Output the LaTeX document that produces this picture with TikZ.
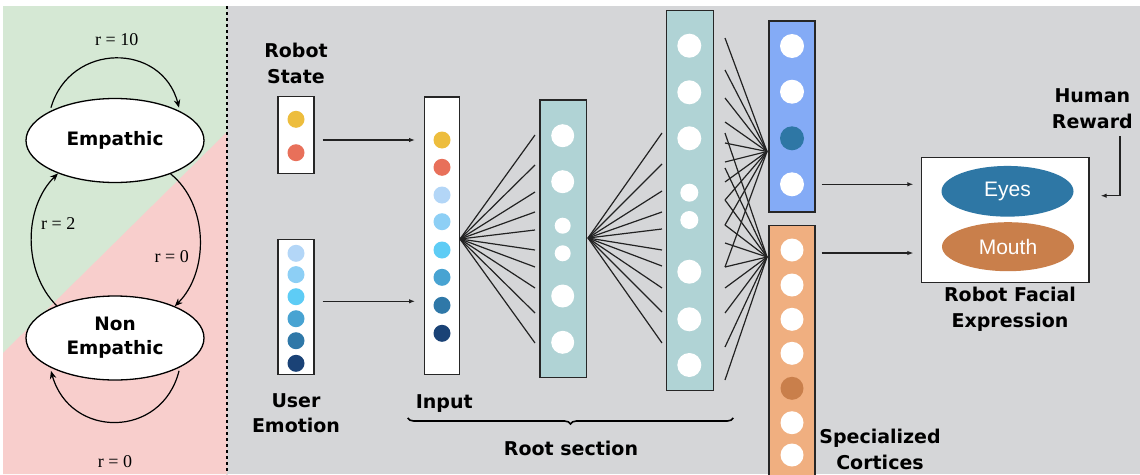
\documentclass[tikz,border=0pt]{standalone}
\usepackage{fontspec}
\setmainfont{Liberation Serif}
\newfontfamily\djv{DejaVu Sans}
\newfontfamily\arl{Liberation Sans}
\usetikzlibrary{arrows.meta,shapes.geometric,decorations.pathreplacing}

\definecolor{bgray}{HTML}{D5D6D8}
\definecolor{lgreen}{HTML}{D5E8D4}
\definecolor{lpink}{HTML}{F8CECC}
\definecolor{layerteal}{HTML}{B0D3D5}
\definecolor{cblue}{HTML}{84ABF6}
\definecolor{corange}{HTML}{F0AF80}
\definecolor{dotyellow}{HTML}{EDBD3D}
\definecolor{dotred}{HTML}{E8705A}
\definecolor{euA}{HTML}{B3D6F7}
\definecolor{euB}{HTML}{8DCFF5}
\definecolor{euC}{HTML}{5ECCF5}
\definecolor{euD}{HTML}{48A3D2}
\definecolor{euE}{HTML}{2F78A8}
\definecolor{euF}{HTML}{1A4276}
\definecolor{eyeblue}{HTML}{2E77A5}
\definecolor{mouthbrown}{HTML}{C97F4B}
\definecolor{wire}{HTML}{222222}

\tikzset{
  state/.style={ellipse, draw, fill=white, line width=1.3, inner sep=0,
    minimum width=178, minimum height=84, align=center,
    font=\djv\bfseries\fontsize{18.5}{24}\selectfont},
  rlabel/.style={font=\fontsize{18}{20}\selectfont, inner sep=0},
  looparrow/.style={line width=1.2, -{Stealth[length=8,width=6.5]}},
  vecbox/.style={draw=black!85, line width=1.4, inner sep=0},
  dot/.style={circle, draw=none, inner sep=0, minimum size=#1},
  dot/.default=17,
  wirefan/.style={draw=wire, line width=1.2},
  flow/.style={draw=wire, line width=1.1, -{Latex[length=6,width=4.5]}},
  caption/.style={align=center, inner sep=0,
    font=\djv\bfseries\fontsize{19}{25.5}\selectfont},
  face/.style={ellipse, draw=none, inner sep=0, minimum width=132,
    text=white, font=\arl\fontsize{21}{24}\selectfont}
}

\begin{document}
\begin{tikzpicture}[x=1pt,y=-1pt]
\useasboundingbox (0,0) rectangle (1140,474);
\clip (0,0) rectangle (1140,474);

% backgrounds
\fill[white] (0,0) rectangle (1140,474);
\fill[bgray] (227,6) rectangle (1140,474);
\fill[lgreen] (3,6) rectangle (227,474);
\fill[lpink] (227,132) -- (227,474) -- (3,474) -- (3,353) -- cycle;
\draw[dashed, line width=1.2] (227,6) -- (227,474);

% ---------- state machine ----------
\node[state] (emp) at (115,140.5) {Empathic};
\node[state] (non) at (115,338) {Non\\Empathic};

\draw[looparrow] ([yshift=3pt]emp.155) .. controls (70,42) and (162,42) .. ([yshift=3pt]emp.25);
\draw[looparrow] (emp.-31) .. controls (209,205) and (209,272) .. (non.28);
\draw[looparrow] (non.151) .. controls (23,272) and (23,208) .. (emp.210);
\draw[looparrow] ([yshift=-3pt]non.-25) .. controls (162,439) and (70,439) .. ([yshift=-3pt]non.205);

\node[rlabel] (r10) at (116.7,39.3) {r = 10};
\node[rlabel] (r0a) at (171.7,256.7) {r = 0};
\node[rlabel] (r2)  at (58.3,224) {r = 2};
\node[rlabel] (r0b) at (115,461.7) {r = 0};

% ---------- input vectors ----------
\node[vecbox, fill=white, minimum width=36, minimum height=77] (rs) at (296,135) {};
\node[dot, fill=dotyellow] (rs1) at (296,119.3) {};
\node[dot, fill=dotred]    (rs2) at (296,152.7) {};

\node[vecbox, fill=white, minimum width=36, minimum height=135] (ue) at (296,306.8) {};
\foreach \c/\y [count=\i] in {euA/253.3,euB/274.6,euC/296.7,euD/318.7,euE/340.7,euF/363.3}
  \node[dot, fill=\c] (ue\i) at (296,\y) {};

\node[caption] (rstxt) at (296,63.3) {Robot\\State};
\node[caption] (uetxt) at (296,413) {User\\Emotion};

% input layer
\node[vecbox, fill=white, minimum width=35.4, minimum height=277.3] (inp) at (442,235.7) {};
\foreach \c/\y [count=\i] in {dotyellow/140,dotred/167.3,euA/195,euB/221.7,euC/250,euD/277.3,euE/305.3,euF/333.3}
  \node[dot, fill=\c] (in\i) at (442,\y) {};

\coordinate (rsout) at (322.7,140);
\coordinate (rsin)  at (415,140);
\coordinate (ueout) at (322.7,301.3);
\coordinate (uein)  at (415,301.3);
\draw[flow] (rsout) -- (rsin);
\draw[flow] (ueout) -- (uein);

% ---------- hidden layers ----------
\node[vecbox, fill=layerteal, minimum width=46.7, minimum height=277.7] (hA) at (563.3,238.9) {};
\foreach \y/\s [count=\i] in {135.7/23,181.7/23,225.7/16,253.3/16,296/23,342.3/23}
  \node[dot=\s, fill=white] (hA\i) at (562.7,\y) {};

\node[vecbox, fill=layerteal, minimum width=46.6, minimum height=380] (hB) at (690,200.7) {};
\foreach \y/\s [count=\i] in {45.7/24,92.3/24,138.3/24,192.7/18,220/18,271.7/24,319.3/24,365/24}
  \node[dot=\s, fill=white] (hB\i) at (689.3,\y) {};

% fan: input -> first hidden
\coordinate (fanA) at (460,239);
\foreach \y [count=\i] in {135,165,192,212,230,250,267,288,313,343} {
  \coordinate (ta\i) at (535,\y);
  \draw[wirefan] (fanA) -- (ta\i);
}
% fan: first hidden -> second hidden
\coordinate (fanB) at (588,238);
\foreach \y [count=\i] in {133,164,191,212,229,250,266,288,312,343} {
  \coordinate (tb\i) at (662,\y);
  \draw[wirefan] (fanB) -- (tb\i);
}

% ---------- specialized cortices ----------
\node[vecbox, fill=cblue, minimum width=46, minimum height=191] (ctxA) at (792,116.5) {};
\foreach \c/\y [count=\i] in {white/46,white/91.7,eyeblue/138.3,white/184.3}
  \node[dot=24, fill=\c] (ca\i) at (792,\y) {};

\node[vecbox, fill=corange, minimum width=46, minimum height=260] (ctxB) at (792,355.7) {};
\foreach \c/\y [count=\i] in {white/250,white/285,white/319.3,white/353.3,mouthbrown/388.3,white/422.7,white/455}
  \node[dot=23, fill=\c] (cb\i) at (792,\y) {};

\coordinate (fanC) at (767,151.5);
\coordinate (fanD) at (767,257);
\foreach \y [count=\i] in {38,70,98,122,143,162,182,200,225,267} {
  \coordinate (sc\i) at (725,\y);
  \draw[wirefan] (sc\i) -- (fanC);
}
\foreach \y [count=\i] in {133,168,200,225,243,267,288,313,347,380} {
  \coordinate (sd\i) at (725,\y);
  \draw[wirefan] (sd\i) -- (fanD);
}

% ---------- output ----------
\node[vecbox, fill=white, minimum width=167.3, minimum height=125] (facebox) at (1005.35,220.2) {};
\node[face, fill=eyeblue, minimum height=50.7] (eyes) at (1007.5,191.3) {Eyes};
\node[face, fill=mouthbrown, minimum height=49] (mouth) at (1008,246.7) {Mouth};

\coordinate (outA) at (821.7,184.3);
\coordinate (inA)  at (913.3,184.3);
\coordinate (outB) at (821.7,253);
\coordinate (inB)  at (913.3,253);
\draw[flow] (outA) -- (inA);
\draw[flow] (outB) -- (inB);

\node[caption] (facetxt) at (1010,309.3) {Robot Facial\\Expression};
\node[caption] (hrtxt) at (1092.3,108.7) {Human\\Reward};
\coordinate (hrtop) at (1120,136);
\coordinate (hrin) at (1100.7,195.7);
\draw[flow] (hrtop) |- (hrin);

% ---------- captions of the network ----------
\node[caption] (inptxt) at (444.2,404) {Input};
\coordinate (braceL) at (407.7,418);
\coordinate (braceR) at (733.3,418);
\draw[line width=1.6, decorate, decoration={brace, mirror, amplitude=6}]
  (braceL) -- (braceR);
\node[caption] (roottxt) at (571,448) {Root section};
\node[caption] (spectxt) at (880,449.2) {Specialized\\Cortices};
\end{tikzpicture}
\end{document}
